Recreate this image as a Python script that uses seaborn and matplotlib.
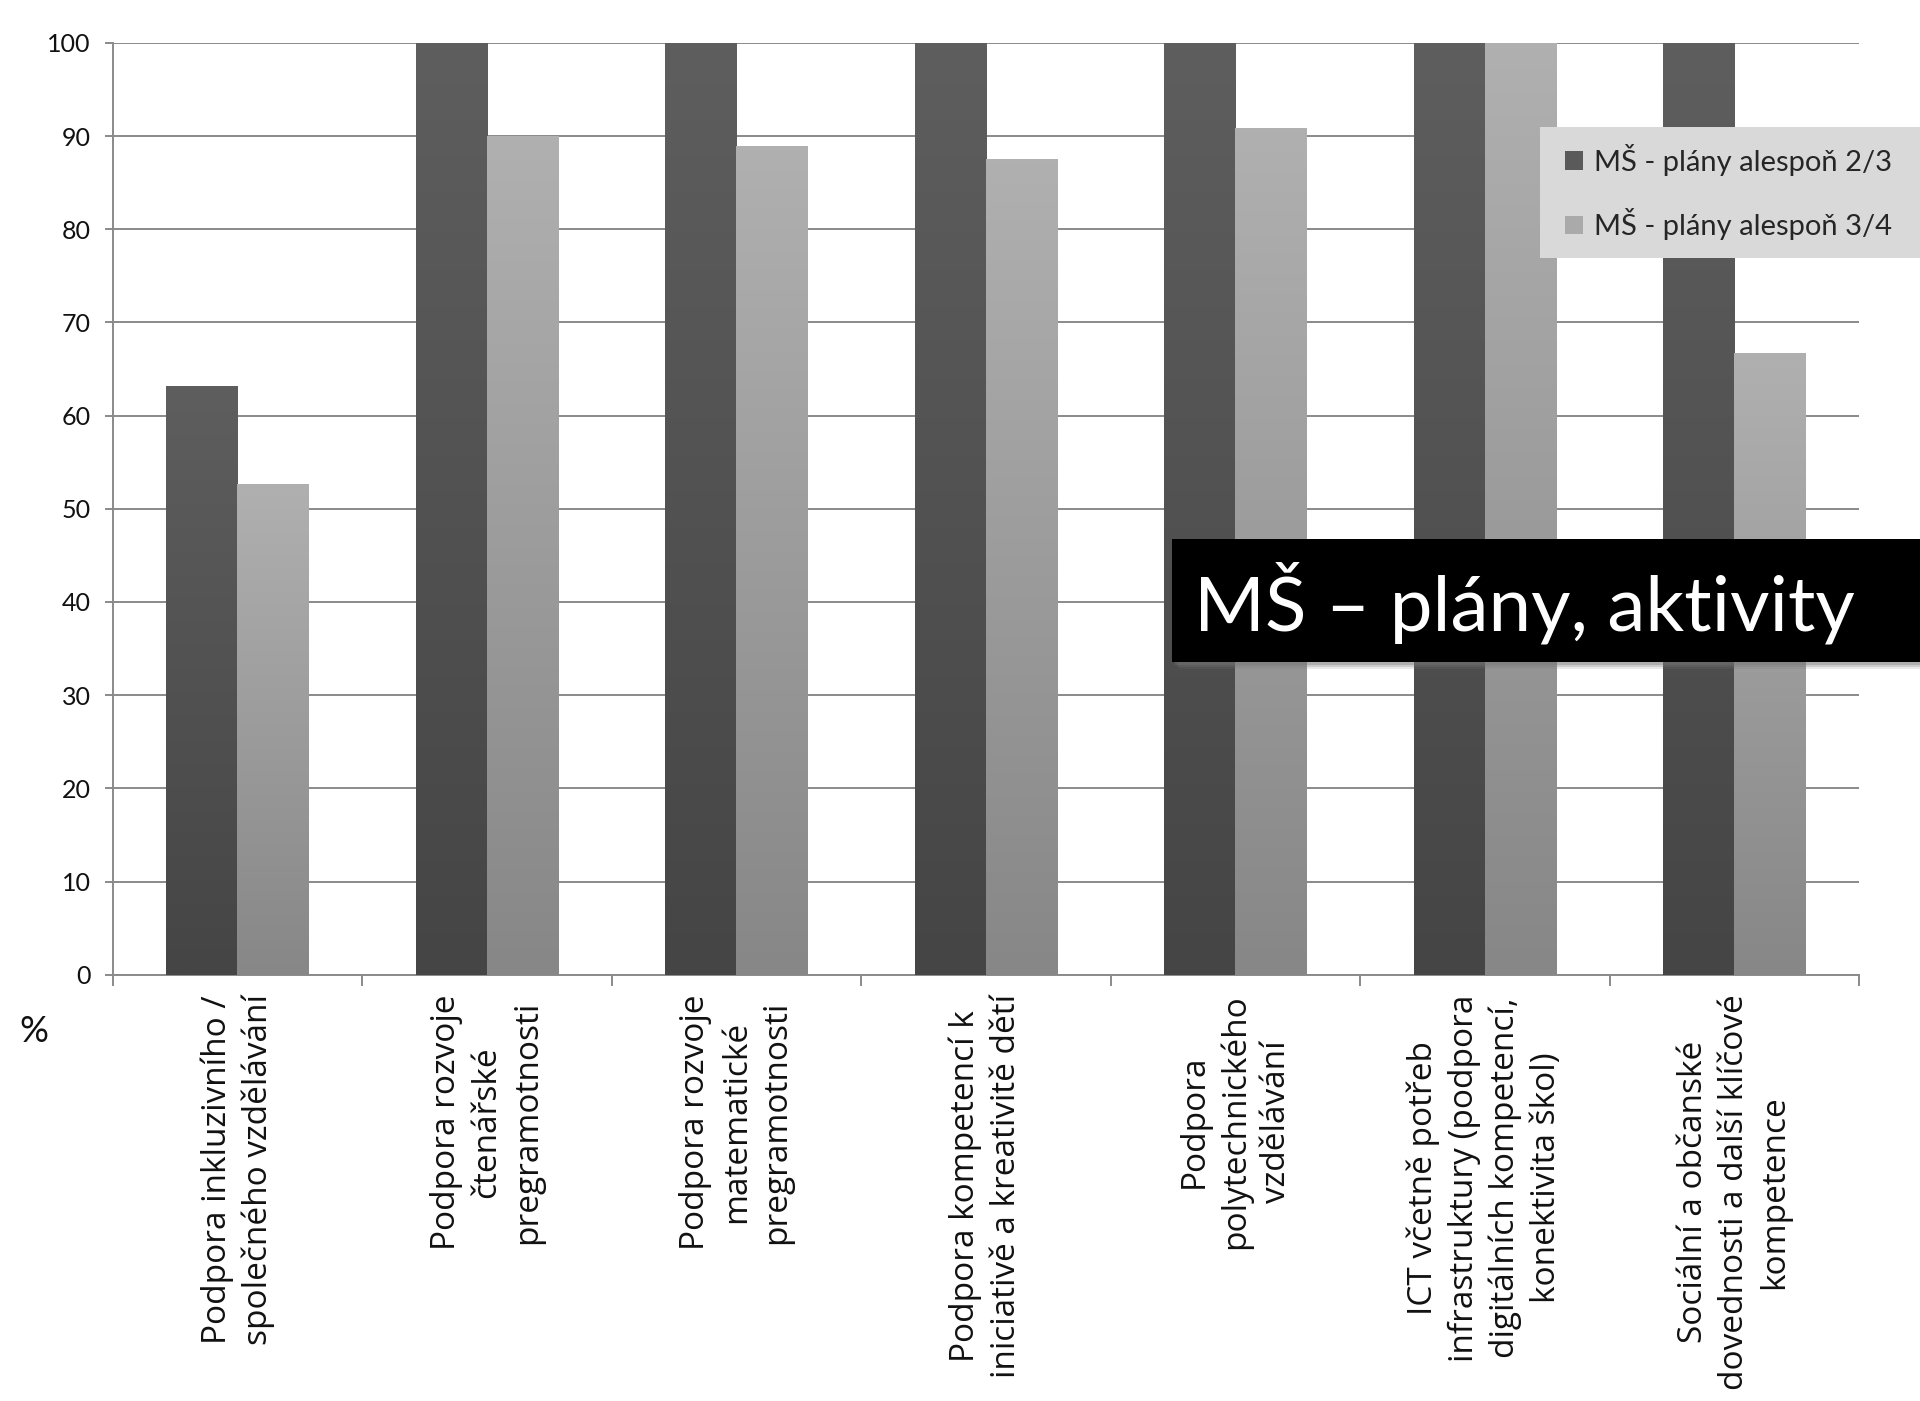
import numpy as np
import pandas as pd
import seaborn as sns
import matplotlib.pyplot as plt
from matplotlib.patches import Rectangle, Patch
from matplotlib.colors import LinearSegmentedColormap

categories = [
    "Podpora inkluzivního /\nspolečného vzdělávání",
    "Podpora rozvoje\nčtenářské\npregramotnosti",
    "Podpora rozvoje\nmatematické\npregramotnosti",
    "Podpora kompetencí k\niniciativě a kreativitě dětí",
    "Podpora\npolytechnického\nvzdělávání",
    "ICT včetně potřeb\ninfrastruktury (podpora\ndigitálních kompetencí,\nkonektivita škol)",
    "Sociální a občanské\ndovednosti a další klíčové\nkompetence",
]
series_names = ["MŠ - plány alespoň 2/3", "MŠ - plány alespoň 3/4"]
values_23 = [63.2, 100, 100, 100, 100, 100, 100]
values_34 = [52.7, 90.0, 88.9, 87.5, 90.9, 100, 66.7]
y_ticks = list(range(0, 101, 10))
title_text = "MŠ – plány, aktivity"
unit_label = "%"

df = pd.DataFrame({
    "cat": categories * 2,
    "series": [series_names[0]] * len(categories) + [series_names[1]] * len(categories),
    "val": values_23 + values_34,
})

sns.set_theme(style="white")
plt.rcParams["font.family"] = ["Lato", "DejaVu Sans"]

dark, light = "#5a5a5a", "#aaaaaa"
grad = {0: ("#5e5e5e", "#454545"), 1: ("#b0b0b0", "#878787")}
grid_col = "#8a8a8a"

fig = plt.figure(figsize=(19.2, 14.01), dpi=100)
ax = fig.add_axes([112.7 / 1920, 1 - 974.7 / 1401, (1859 - 112.7) / 1920, (974.7 - 42.9) / 1401])

sns.barplot(data=df, x="cat", y="val", hue="series", order=categories,
            hue_order=series_names, palette=[dark, light], width=0.57,
            saturation=1, ax=ax, legend=False, errorbar=None, linewidth=0)

# vertical gradient inside each bar
for ci, cont in enumerate(ax.containers):
    cmap = LinearSegmentedColormap.from_list(f"g{ci}", [grad[ci][0], grad[ci][1]])
    arr = np.linspace(0, 1, 256).reshape(-1, 1)
    for bar in cont:
        x0 = bar.get_x()
        w = bar.get_width()
        h = bar.get_height()
        im = ax.imshow(arr, cmap=cmap, aspect="auto", extent=(x0, x0 + w, 0, h),
                       origin="upper", zorder=3, interpolation="bilinear")
        im.set_clip_path(bar)

ax.set_xlim(-0.5, len(categories) - 0.5)
ax.set_ylim(0, 100)
ax.set_yticks(y_ticks)
ax.set_yticklabels([str(t) for t in y_ticks], fontsize=18, color="#111111")
ax.yaxis.grid(True, color=grid_col, linewidth=1.4)
ax.set_axisbelow(True)
for s in ["top", "right"]:
    ax.spines[s].set_visible(False)
for s in ["left", "bottom"]:
    ax.spines[s].set_color(grid_col)
    ax.spines[s].set_linewidth(1.4)
ax.tick_params(axis="y", which="major", length=6, width=1.4, color=grid_col, pad=10, left=True)

ax.set_xticks(range(len(categories)))
ax.set_xticklabels(categories, rotation=90, fontsize=24, family=["Open Sans", "DejaVu Sans"],
                   linespacing=1.3, multialignment="center", color="#111111")
ax.tick_params(axis="x", which="major", length=0, pad=14)
ax.set_xticks(np.arange(-0.5, len(categories), 1.0), minor=True)
ax.tick_params(axis="x", which="minor", length=8, width=1.4, color=grid_col, bottom=True)
ax.set_xlabel("")
ax.set_ylabel("")

fig.text(34 / 1920, 1 - 1032 / 1401, unit_label, fontsize=26, ha="center", va="center", color="#111111")

# legend background and legend
fig.patches.append(Rectangle((1540 / 1920, 1 - 258 / 1401), (1920 - 1540) / 1920, 131 / 1401,
                             transform=fig.transFigure, facecolor="#d9d9d9", edgecolor="none", zorder=5))
handles = [Patch(facecolor=dark, edgecolor="none"), Patch(facecolor=light, edgecolor="none")]
fig.legend(handles, series_names, loc="center left", bbox_to_anchor=(1565 / 1920, 1 - 192 / 1401),
           frameon=False, fontsize=21, borderpad=0, borderaxespad=0, handlelength=0.6,
           handleheight=0.6, handletextpad=0.4, labelspacing=1.1)

# title box with soft shadow
for k, a in enumerate([0.15, 0.25, 0.35]):
    off = 7 - 2 * k
    fig.patches.append(Rectangle(((1172 + off) / 1920, 1 - (662 + off) / 1401), 760 / 1920, 123 / 1401,
                                 transform=fig.transFigure, facecolor="#777777", edgecolor="none",
                                 alpha=a, zorder=6))
fig.patches.append(Rectangle((1172 / 1920, 1 - 662 / 1401), 760 / 1920, 123 / 1401,
                             transform=fig.transFigure, facecolor="black", edgecolor="none", zorder=7))
fig.text(1194 / 1920, 1 - 603 / 1401, title_text, fontsize=55, color="white", ha="left",
         va="center", zorder=8)

fig.savefig("out.png", dpi=100)
